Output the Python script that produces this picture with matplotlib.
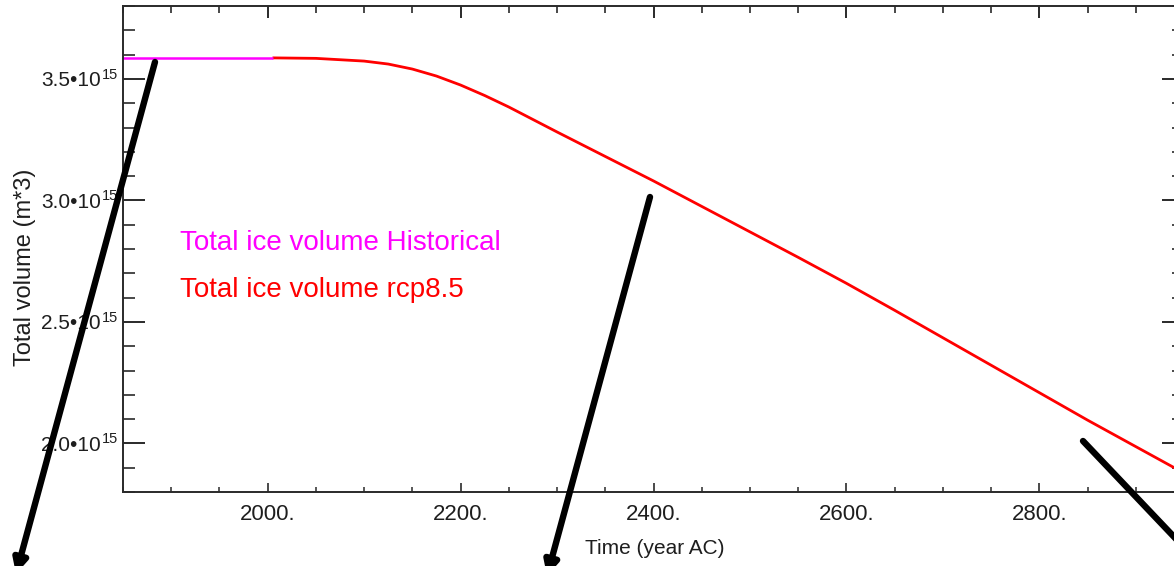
import matplotlib
matplotlib.use("Agg")
import matplotlib.pyplot as plt
from matplotlib.ticker import MultipleLocator, FuncFormatter, NullFormatter

# ---- data ----
hist_years = [1850, 1900, 1950, 2005]
hist_volume = [3.587e15, 3.587e15, 3.587e15, 3.587e15]

rcp_years = [2005, 2050, 2100, 2125, 2150, 2175, 2200, 2225, 2250, 2300, 2350,
             2400, 2450, 2500, 2550, 2600, 2650, 2700, 2750, 2800, 2850, 2900,
             2950]
rcp_volume = [3.5865e15, 3.5845e15, 3.5733e15, 3.5611e15, 3.5405e15, 3.5117e15,
              3.4747e15, 3.4316e15, 3.3843e15, 3.2816e15, 3.1808e15, 3.0801e15,
              2.9753e15, 2.8705e15, 2.7657e15, 2.6588e15, 2.5478e15, 2.4348e15,
              2.3218e15, 2.2088e15, 2.0958e15, 1.9868e15, 1.8779e15]

x_major = [2000, 2200, 2400, 2600, 2800]
y_major = [2.0e15, 2.5e15, 3.0e15, 3.5e15]
y_exponent = "15"

series_labels = ["Total ice volume Historical", "Total ice volume rcp8.5"]
x_label = "Time (year AC)"
y_label = "Total volume (m*3)"

# ---- style ----
plt.rcParams["font.family"] = ["Liberation Sans", "DejaVu Sans"]

W, H = 1174, 566
PT = 0.72  # points per pixel at dpi=100
fig = plt.figure(figsize=(W / 100, H / 100), dpi=100)
ax = fig.add_axes([123 / W, (H - 492) / H, (1184 - 123) / W, (492 - 6) / H])

MAG = "#ff00ff"
RED = "#ff0000"
ax.plot(rcp_years, rcp_volume, color=RED, lw=2.0, solid_capstyle="butt")
ax.plot(hist_years, hist_volume, color=MAG, lw=1.8, solid_capstyle="butt")

ax.set_xlim(1850, 2950)
ax.set_ylim(1.8e15, 3.8e15)

spine_col = "#2a2a2a"
for s in ax.spines.values():
    s.set_color(spine_col)
    s.set_linewidth(1.4)

ax.set_xticks(x_major)
ax.xaxis.set_minor_locator(MultipleLocator(50))
ax.set_yticks(y_major)
ax.yaxis.set_minor_locator(MultipleLocator(0.1e15))
ax.xaxis.set_major_formatter(FuncFormatter(lambda v, p: f"{int(round(v))}."))
ax.yaxis.set_major_formatter(
    FuncFormatter(lambda v, p: f"{v / 1e15:.1f}\u202210"))

txtcol = "#1e1e1e"
ax.tick_params(axis="x", which="major", direction="in", length=9 * PT, width=1.2,
               color=spine_col, labelsize=16, pad=12 * PT, labelcolor=txtcol)
ax.tick_params(axis="x", which="minor", direction="in", length=5 * PT, width=1.1,
               color=spine_col)
ax.tick_params(axis="y", which="major", direction="in", length=22 * PT, width=1.4,
               color=spine_col, labelsize=15, pad=22 * PT, labelcolor=txtcol)
ax.tick_params(axis="y", which="minor", direction="in", length=12 * PT, width=1.2,
               color=spine_col)

# exponent superscripts of the y tick labels
for v in y_major:
    ax.text(-5 / 1061, v, y_exponent, transform=ax.get_yaxis_transform(),
            ha="right", va="baseline", fontsize=10.5, color=txtcol)

# top / right ticks
top = ax.secondary_xaxis("top")
top.xaxis.set_major_locator(MultipleLocator(200))
top.xaxis.set_minor_locator(MultipleLocator(50))
top.xaxis.set_major_formatter(NullFormatter())
top.tick_params(axis="x", which="major", direction="in", length=12 * PT, width=1.4,
                color=spine_col)
top.tick_params(axis="x", which="minor", direction="in", length=7 * PT, width=1.2,
                color=spine_col)
top.spines["top"].set_visible(False)

right = ax.secondary_yaxis("right")
right.yaxis.set_major_locator(MultipleLocator(0.5e15))
right.yaxis.set_minor_locator(MultipleLocator(0.1e15))
right.yaxis.set_major_formatter(NullFormatter())
right.tick_params(axis="y", which="major", direction="in", length=22 * PT,
                  width=1.4, color=spine_col)
right.tick_params(axis="y", which="minor", direction="in", length=12 * PT,
                  width=1.2, color=spine_col)
right.spines["right"].set_visible(False)

# axis labels
fig.text(655 / W, 1 - 548 / H, x_label, ha="center", va="center",
         fontsize=15, color=txtcol)
fig.text(25 / W, 1 - 267 / H, y_label, ha="center", va="center",
         rotation=90, fontsize=17, color=txtcol)

# in-plot legend text
fig.text(180 / W, 1 - 250 / H, series_labels[0], ha="left", va="baseline",
         fontsize=20, color=MAG)
fig.text(180 / W, 1 - 297 / H, series_labels[1], ha="left", va="baseline",
         fontsize=20, color=RED)

# black annotation arrows (image pixel coords -> figure pixels)
arrows = [((155, 62), (16, 574)), ((650, 197), (547, 576)),
          ((1083, 441), (1215, 580))]
for (x0, y0), (x1, y1) in arrows:
    ax.annotate("", xy=(x1, H - y1), xytext=(x0, H - y0),
                xycoords="figure pixels", textcoords="figure pixels",
                arrowprops=dict(arrowstyle="-|>", lw=4.6, color="black",
                                mutation_scale=20, shrinkA=0, shrinkB=0),
                annotation_clip=False)

fig.savefig("out.png", dpi=100)
